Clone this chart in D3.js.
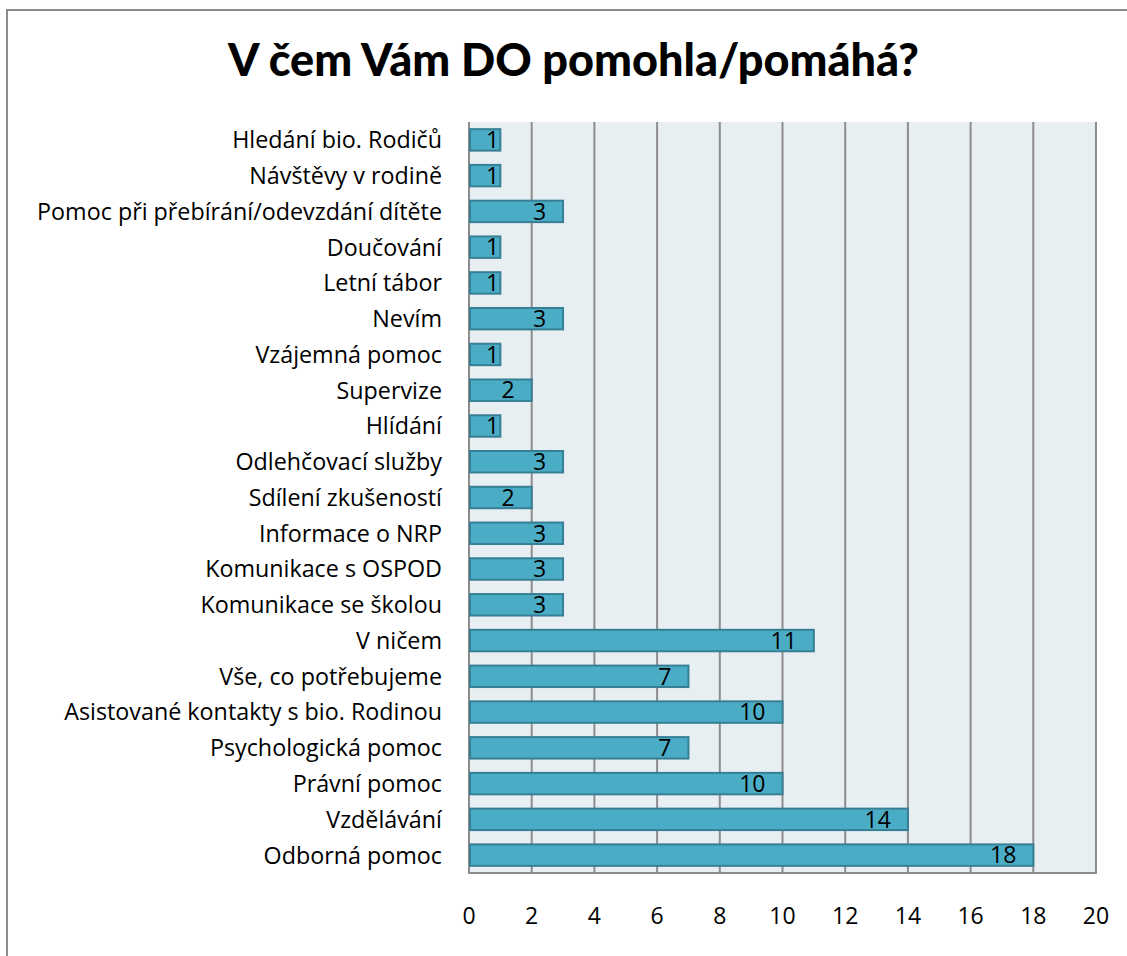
<!DOCTYPE html>
<html><head><meta charset="utf-8">
<script src="https://cdn.jsdelivr.net/npm/d3@7"></script>
<style>body{margin:0;background:#fff}svg{display:block}</style>
</head><body>
<script>
const titleText = "V čem Vám DO pomohla/pomáhá?";
const categories = [
  "Hledání bio. Rodičů","Návštěvy v rodině","Pomoc při přebírání/odevzdání dítěte","Doučování",
  "Letní tábor","Nevím","Vzájemná pomoc","Supervize","Hlídání","Odlehčovací služby",
  "Sdílení zkušeností","Informace o NRP","Komunikace s OSPOD","Komunikace se školou",
  "V ničem","Vše, co potřebujeme","Asistované kontakty s bio. Rodinou","Psychologická pomoc",
  "Právní pomoc","Vzdělávání","Odborná pomoc"];
const values = [1,1,3,1,1,3,1,2,1,3,2,3,3,3,11,7,10,7,10,14,18];
const tickValues = [0,2,4,6,8,10,12,14,16,18,20];

const W = 1127, H = 956;
const svg = d3.select("body").append("svg").attr("width", W).attr("height", H);
const font = "'Open Sans', sans-serif";

svg.append("rect").attr("x",7).attr("y",10).attr("width",1300).attr("height",1200)
  .attr("fill","#fff").attr("stroke","#8c8c8c").attr("stroke-width",2);

const L = 469, R = 1096, T = 122, B = 873;
const x = d3.scaleLinear().domain([0,20]).range([L,R]);
const y = d3.scaleBand().domain(categories).range([T,B]).paddingInner(0.4).paddingOuter(0.2);

svg.append("rect").attr("x",L).attr("y",T).attr("width",R-L).attr("height",B-T).attr("fill","#e8eff3");

svg.append("g").selectAll("line").data(tickValues).join("line")
  .attr("x1",d=>x(d)).attr("x2",d=>x(d)).attr("y1",T).attr("y2",B)
  .attr("stroke","#8c8c8c").attr("stroke-width",2);
svg.append("line").attr("x1",L-1).attr("x2",R+1).attr("y1",B).attr("y2",B)
  .attr("stroke","#8c8c8c").attr("stroke-width",2);

svg.append("g").selectAll("rect").data(values).join("rect")
  .attr("x",x(0)+1).attr("y",(d,i)=>y(categories[i]))
  .attr("width",d=>x(d)-x(0)-1).attr("height",y.bandwidth())
  .attr("fill","#4bacc6").attr("stroke","#367f94").attr("stroke-width",2);

const lbl = svg.append("g").selectAll("text").data(values).join("text")
  .attr("y",(d,i)=>y(categories[i])+y.bandwidth()/2)
  .attr("dy","0.36em").attr("text-anchor","end")
  .attr("font-family",font).attr("font-size",23).attr("fill","#000")
  .text(d=>d);
lbl.each(function(d){
  const w = this.getComputedTextLength();
  d3.select(this).attr("x", Math.max(x(d)-17, x(0)+w+17));
});

svg.append("g").selectAll("text").data(categories).join("text")
  .attr("x",442).attr("y",d=>y(d)+y.bandwidth()/2).attr("dy","0.36em")
  .attr("text-anchor","end").attr("font-family",font).attr("font-size",23.3).attr("fill","#000")
  .text(d=>d);

svg.append("g").selectAll("text").data(tickValues).join("text")
  .attr("x",d=>x(d)).attr("y",916).attr("dy","0.36em").attr("text-anchor","middle")
  .attr("font-family",font).attr("font-size",23).attr("fill","#000").text(d=>d);

svg.append("text").attr("x",573.5).attr("y",76).attr("text-anchor","middle")
  .attr("font-family","Lato, sans-serif").attr("font-weight","900").attr("font-size",45).attr("fill","#000")
  .text(titleText);
</script>
</body></html>
